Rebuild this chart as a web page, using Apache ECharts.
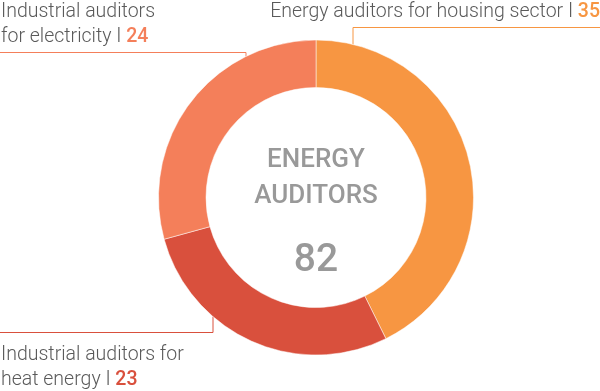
<!DOCTYPE html>
<html>
<head>
<meta charset="utf-8">
<script src="https://cdn.jsdelivr.net/npm/echarts@6/dist/echarts.min.js"></script>
<style>
html,body{margin:0;padding:0;background:#fff;}
#c{width:600px;height:391px;}
</style>
</head>
<body>
<div id="c"></div>
<script>
// ---- data ----
const categories = ['Energy auditors for housing sector', 'Industrial auditors for\nheat energy', 'Industrial auditors\nfor electricity'];
const values = [35, 23, 24];
const centerTitle = ['ENERGY', 'AUDITORS'];
const colors = ['#F79642', '#D9503D', '#F47F5A'];

// ---- layout ----
const CX = 316, CY = 197.5, R_OUT = 157.5, R_IN = 110;
const labelSpecs = [
  {x: 600, y: 0, align: 'right', lineX: 353, lineY: 27.5, lineEnd: 600, top: true},
  {x: 1, y: 343, align: 'left', lineX: 213, lineY: 332.5, lineEnd: 0, top: false},
  {x: 1, y: 0, align: 'left', lineX: 246, lineY: 52.5, lineEnd: 0, top: true}
];
const total = values.reduce((a, b) => a + b, 0);
const FS = 19.5;

const rich = {};
colors.forEach((c, i) => {
  rich['v' + i] = {color: c, fontSize: FS, fontWeight: 500, fontFamily: 'Roboto', lineHeight: 25};
  rich['t' + i] = {color: '#5a5a5a', fontSize: FS, fontWeight: 300, fontFamily: 'Roboto', lineHeight: 25};
});

const chart = echarts.init(document.getElementById('c'), null, {renderer: 'canvas'});
chart.setOption({
  animation: false,
  backgroundColor: '#fff',
  color: colors,
  graphic: [
    {type: 'text', x: CX, y: 160, style: {text: centerTitle[0], fill: '#999999', font: '500 26px Roboto', textAlign: 'center', textVerticalAlign: 'middle'}},
    {type: 'text', x: CX, y: 196.5, style: {text: centerTitle[1], fill: '#999999', font: '500 26px Roboto', textAlign: 'center', textVerticalAlign: 'middle'}},
    {type: 'text', x: CX, y: 261, style: {text: String(total), fill: '#999999', font: '500 39px Roboto', textAlign: 'center', textVerticalAlign: 'middle'}}
  ],
  series: [{
    type: 'pie',
    center: [CX, CY],
    radius: [R_IN, R_OUT],
    startAngle: 90,
    clockwise: true,
    avoidLabelOverlap: false,
    itemStyle: {borderColor: '#fff', borderWidth: 0.5},
    label: {
      show: true,
      position: 'outside',
      color: '#5a5a5a',
      fontFamily: 'Roboto',
      fontWeight: 300,
      fontSize: FS,
      lineHeight: 25,
      rich: rich,
      formatter: p => p.name.split('\n').map((s, k, arr) =>
        '{t' + p.dataIndex + '|' + s + (k === arr.length - 1 ? ' I ' : '') + '}' + (k === arr.length - 1 ? '{v' + p.dataIndex + '|' + p.value + '}' : '')
      ).join('\n')
    },
    labelLine: {show: true, smooth: false, lineStyle: {width: 1}},
    labelLayout: function (params) {
      const s = labelSpecs[params.dataIndex];
      const dx = s.lineX - CX;
      const dy = Math.sqrt(R_OUT * R_OUT - dx * dx);
      const yc = s.top ? CY - dy : CY + dy;
      return {
        x: s.x, y: s.y, align: s.align, verticalAlign: 'top',
        labelLinePoints: [[s.lineX, yc], [s.lineX, s.lineY], [s.lineEnd, s.lineY]]
      };
    },
    data: categories.map((n, i) => ({name: n, value: values[i]}))
  }]
});
</script>
</body>
</html>
